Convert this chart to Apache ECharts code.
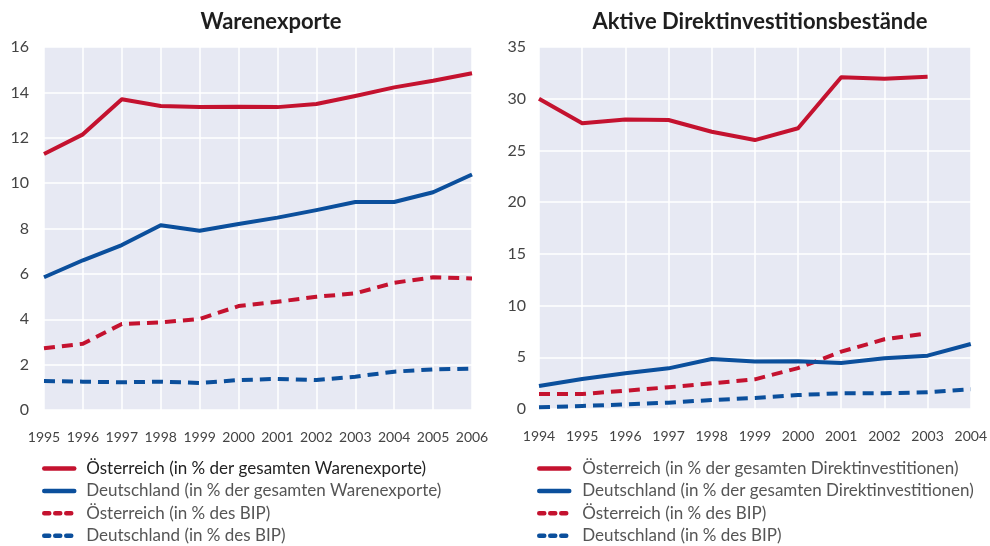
<!DOCTYPE html>
<html>
<head>
<meta charset="utf-8">
<script src="https://cdn.jsdelivr.net/npm/echarts@6/dist/echarts.min.js"></script>
<style>html,body{margin:0;padding:0;background:#fff}#c{width:990px;height:546px}</style>
</head>
<body>
<div id="c"></div>
<script>
// ---- data ----
const yearsLeft = ['1995','1996','1997','1998','1999','2000','2001','2002','2003','2004','2005','2006'];
const atExportShare = [11.28, 12.15, 13.7, 13.4, 13.35, 13.37, 13.35, 13.49, 13.84, 14.22, 14.51, 14.84];
const deExportShare = [5.85, 6.6, 7.27, 8.14, 7.9, 8.2, 8.48, 8.81, 9.17, 9.17, 9.6, 10.38];
const atExportGdp = [2.72, 2.92, 3.79, 3.86, 4.01, 4.58, 4.77, 4.99, 5.14, 5.61, 5.85, 5.8];
const deExportGdp = [1.28, 1.25, 1.22, 1.25, 1.19, 1.32, 1.37, 1.32, 1.47, 1.69, 1.79, 1.82];

const yearsRight = ['1994','1995','1996','1997','1998','1999','2000','2001','2002','2003','2004'];
const atFdiShare = [30.0, 27.62, 28.0, 27.94, 26.81, 26.0, 27.14, 32.07, 31.94, 32.13, null];
const deFdiShare = [2.22, 2.9, 3.45, 3.93, 4.83, 4.6, 4.62, 4.45, 4.9, 5.16, 6.28];
const atFdiGdp = [1.45, 1.45, 1.77, 2.1, 2.48, 2.87, 3.95, 5.54, 6.74, 7.32, null];
const deFdiGdp = [0.16, 0.29, 0.45, 0.61, 0.87, 1.06, 1.35, 1.52, 1.52, 1.61, 1.9];

const namesLeft = ['Österreich (in % der gesamten Warenexporte)', 'Deutschland (in % der gesamten Warenexporte)', 'Österreich (in % des BIP)', 'Deutschland (in % des BIP)'];
const namesRight = ['Österreich (in % der gesamten Direktinvestitionen)', 'Deutschland (in % der gesamten Direktinvestitionen)', 'Österreich (in % des BIP)', 'Deutschland (in % des BIP)'];
const titles = ['Warenexporte', 'Aktive Direktinvestitionsbestände'];

// ---- styles ----
const RED = '#c4122f', BLUE = '#0b4f9c', BG = '#e7e9f3';
const FONT = 'Lato';
// right-side series get a trailing space in their internal names so both legends stay independent
const SUFFIX = ' ';

function mkSeries(name, data, color, dashed, idx) {
  return {
    type: 'line', name, data,
    xAxisIndex: idx, yAxisIndex: idx,
    symbol: 'none', smooth: false, connectNulls: false,
    lineStyle: { color, width: 4, type: dashed ? [11, 7] : 'solid', cap: 'butt', join: 'round' },
    itemStyle: { color },
    emphasis: { disabled: true },
    z: dashed ? 3 : 4
  };
}
function legendItems(names, suffix) {
  return names.map((n, i) => ({
    name: n + suffix,
    itemStyle: { opacity: 0 },
    lineStyle: { width: 4.5, cap: 'round', type: i >= 2 ? [5, 6] : 'solid' },
    textStyle: { color: '#555' }
  }));
}
const legL = legendItems(namesLeft, '');
legL[0].textStyle = { color: '#222' };
const legR = legendItems(namesRight, SUFFIX);

function xAxis(idx, years) {
  return {
    type: 'category', gridIndex: idx, data: years, boundaryGap: false,
    axisLine: { show: false }, axisTick: { show: false },
    axisLabel: { interval: 0, color: '#444', fontFamily: FONT, fontSize: 14, margin: 20 },
    splitLine: { show: true, lineStyle: { color: '#ffffff', width: 1.5 } }
  };
}
function yAxis(idx, max, interval, margin) {
  return {
    type: 'value', gridIndex: idx, min: 0, max, interval,
    axisLine: { show: false }, axisTick: { show: false },
    axisLabel: { color: '#444', fontFamily: FONT, fontSize: 16, margin },
    splitLine: { show: true, lineStyle: { color: '#ffffff', width: 1.5 } }
  };
}
function legend(left, data, pad) {
  return {
    orient: 'vertical', left, top: 455, height: 100, width: 450,
    itemWidth: 30, itemHeight: 14, itemGap: 5.4, selectedMode: false,
    itemStyle: { opacity: 0 },
    textStyle: { fontFamily: FONT, fontSize: 17, lineHeight: 17, color: '#555', padding: [0, 0, 0, pad] },
    data
  };
}

const option = {
  animation: false,
  textStyle: { fontFamily: FONT },
  title: [
    { text: titles[0], left: 266, top: 6, textAlign: 'center', textStyle: { fontFamily: FONT, fontWeight: 'bold', fontSize: 22, color: '#1e1e1e' } },
    { text: titles[1], left: 755, top: 6, textAlign: 'center', textStyle: { fontFamily: FONT, fontWeight: 'bold', fontSize: 22, color: '#1e1e1e' } }
  ],
  grid: [
    { left: 44, right: 518, top: 47, bottom: 136, show: true, backgroundColor: BG, borderWidth: 0 },
    { left: 539, right: 19, top: 47, bottom: 137, show: true, backgroundColor: BG, borderWidth: 0 }
  ],
  xAxis: [xAxis(0, yearsLeft), xAxis(1, yearsRight)],
  yAxis: [yAxis(0, 16, 2, 15), yAxis(1, 35, 5, 13)],
  legend: [legend(37, legL, 7), legend(532, legR, 8)],
  series: [
    mkSeries(namesLeft[0], atExportShare, RED, false, 0),
    mkSeries(namesLeft[1], deExportShare, BLUE, false, 0),
    mkSeries(namesLeft[2], atExportGdp, RED, true, 0),
    mkSeries(namesLeft[3], deExportGdp, BLUE, true, 0),
    mkSeries(namesRight[0] + SUFFIX, atFdiShare, RED, false, 1),
    mkSeries(namesRight[1] + SUFFIX, deFdiShare, BLUE, false, 1),
    mkSeries(namesRight[2] + SUFFIX, atFdiGdp, RED, true, 1),
    mkSeries(namesRight[3] + SUFFIX, deFdiGdp, BLUE, true, 1)
  ]
};

const chart = echarts.init(document.getElementById('c'), null, { renderer: 'canvas' });
chart.setOption(option);
</script>
</body>
</html>
